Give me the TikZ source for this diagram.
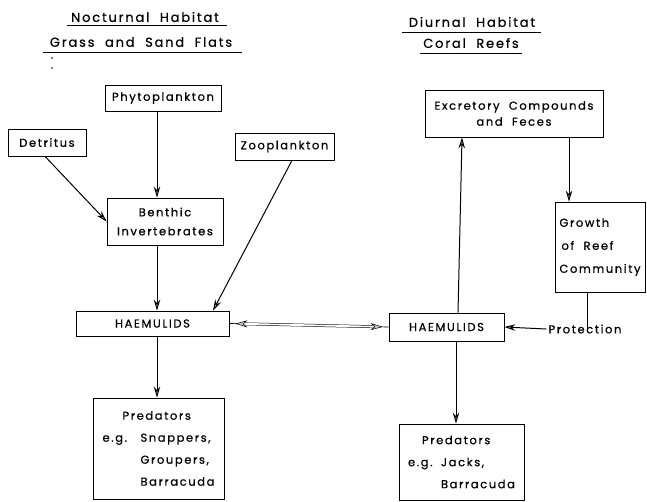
\documentclass[tikz,border=0pt]{standalone}
\usepackage{fontspec}
\setmainfont{Poppins}[LetterSpace=14, FakeBold=0.6]
\usetikzlibrary{arrows.meta}
\tikzset{
  box/.style={draw, line width=0.7pt, rectangle, inner sep=0pt, align=center, font=\fontsize{11.5}{13}\selectfont},
  arr/.style={line width=1pt, -{Stealth[length=11pt,width=6.5pt,open,fill=gray!55]}},
  ttl/.style={font=\fontsize{13}{15}\selectfont, inner sep=0pt},
  lbl/.style={font=\fontsize{11.5}{13}\selectfont, inner sep=2pt},
  uline/.style={line width=0.6pt},
}
\begin{document}
\begin{tikzpicture}[x=1pt,y=-1pt]
\useasboundingbox (0,0) rectangle (647,501);
% titles
\node[ttl] (t1) at (145,17) {Nocturnal\ \ Habitat};
\node[ttl] (t2) at (141,42) {Grass\ \ and\ \ Sand\ \ Flats};
\node[ttl] (t3) at (472,22) {Diurnal\ \ Habitat};
\node[ttl] (t4) at (471,43) {Coral\ \ Reefs};
\draw[uline] (67,25) -- (227,25);
\draw[uline] (43,52) -- (242,52);
\draw[uline] (402,32) -- (541,32);
\draw[uline] (420,53) -- (522,53);
\fill (52,58) circle (0.9pt) (52,68) circle (0.9pt);
% boxes
\node[box, minimum width=116pt, minimum height=26pt] (phyto) at (163,98) {Phytoplankton};
\node[box, minimum width=78pt, minimum height=27pt] (detr) at (47,142.5) {Detritus};
\node[box, minimum width=99pt, minimum height=27pt] (zoo) at (284.5,146.5) {Zooplankton};
\node[box, minimum width=116pt, minimum height=47pt] (benth) at (165,221.5) {Benthic\\[6pt]Invertebrates};
\node[box, minimum width=153pt, minimum height=25pt] (haemL) at (152.5,323.5) {HAEMULIDS};
\node[box, minimum width=131pt, minimum height=101pt, align=left] (predL) at (158.5,448.5)
  {\hspace*{20pt}Predators\\[9pt]\makebox[38pt][l]{e.g.}Snappers,\\[9pt]\hspace*{38pt}Groupers,\\[9pt]\hspace*{38pt}Barracuda};
\node[box, minimum width=178pt, minimum height=47pt] (excr) at (514,113.5) {Excretory\ \ Compounds\\[3pt]and\ \ Feces};
\node[box, minimum width=90pt, minimum height=90pt, align=left] (growth) at (600,247)
  {Growth\\[10pt]\hspace*{2pt}of\ \ Reef\\[10pt]Community};
\node[box, minimum width=115pt, minimum height=28pt] (haemR) at (446.5,327) {HAEMULIDS};
\node[box, minimum width=125pt, minimum height=76pt, align=left] (predR) at (461.5,462)
  {\hspace*{14pt}Predators\\[9pt]\makebox[33pt][l]{e.g.}Jacks,\\[9pt]\hspace*{33pt}Barracuda};
\node[lbl] (prot) at (585,329) {Protection};
% connectors
\draw[arr] ([xshift=-6pt]phyto.south) -- ([xshift=-8pt]benth.north);
\draw[arr] ([xshift=-2pt]detr.south) -- (benth.west);
\draw[arr] ([xshift=7.5pt]zoo.south) -- ([xshift=60.5pt]haemL.north);
\draw[arr] ([xshift=-8pt]benth.south) -- ([xshift=4.5pt]haemL.north);
\draw[arr] ([xshift=4.5pt]haemL.south) -- ([xshift=-1.5pt]predL.north);
\draw[arr] ([xshift=55pt]excr.south) -- ([xshift=-31pt]growth.north);
\draw[arr] ([xshift=11.5pt]haemR.north) -- ([xshift=-52pt]excr.south);
\draw[arr] ([xshift=9.5pt]haemR.south) -- ([xshift=-5.5pt]predR.north);
\draw[arr] (prot.west) -- (haemR.east);
\draw[line width=1pt] ([xshift=-13pt]growth.south) -- ([xshift=2pt,yshift=-7pt]prot.north);
% double arrow
\draw[line width=0.7pt] (haemL.east) -- (haemR.west);
\draw[line width=0.5pt, double, double distance=1.8pt, {Stealth[length=12pt,width=7pt,open,fill=gray!40]}-{Stealth[length=12pt,width=7pt,open,fill=gray!40]}, shorten <=6pt, shorten >=6pt] (haemL.east) -- (haemR.west);
\end{tikzpicture}
\end{document}
